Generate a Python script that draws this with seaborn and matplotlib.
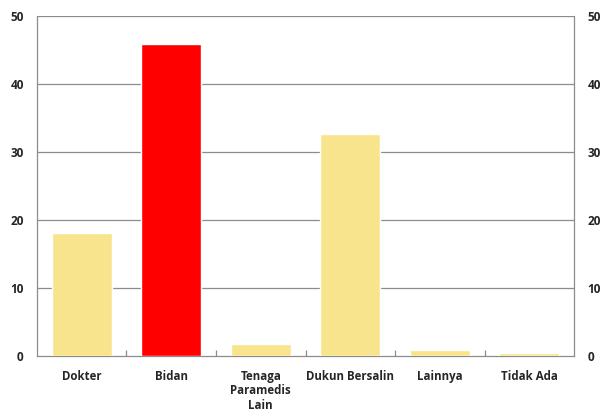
import matplotlib
matplotlib.use("Agg")
import matplotlib.pyplot as plt
import seaborn as sns
import pandas as pd
import numpy as np

categories = ["Dokter", "Bidan", "Tenaga\nParamedis\nLain", "Dukun Bersalin", "Lainnya", "Tidak Ada"]
values = [18.1, 45.9, 1.7, 32.6, 0.9, 0.4]
bar_colors = ["#F8E48C", "#FF0000", "#F8E48C", "#F8E48C", "#F8E48C", "#F8E48C"]
y_ticks = [0, 10, 20, 30, 40, 50]

sns.set_style("white")
plt.rcParams["font.family"] = ["Open Sans", "DejaVu Sans"]
plt.rcParams["font.weight"] = "bold"

df = pd.DataFrame({"kategori": categories, "nilai": values})

fig = plt.figure(figsize=(6.05, 4.13), dpi=100)
ax = fig.add_axes([0.061, 0.138, 0.888, 0.823])

sns.barplot(data=df, x="kategori", y="nilai", hue="kategori", palette=bar_colors,
            legend=False, width=0.67, saturation=1, ax=ax, zorder=3)

ax.set_ylim(0, 50)
ax.set_xlim(-0.5, len(categories) - 0.5)
ax.set_yticks(y_ticks)
ax.set_yticklabels([str(t) for t in y_ticks], fontweight="bold", fontsize=8.5)
ax.set_xticks(range(len(categories)))
ax.set_xticklabels(categories, fontweight="bold", fontsize=8.3, linespacing=1.15)
ax.set_xlabel("")
ax.set_ylabel("")

grid_c = "#8C8C8C"
for y in y_ticks[1:]:
    ax.axhline(y, color=grid_c, lw=0.9, zorder=1)

for side in ["left", "right", "bottom"]:
    ax.spines[side].set_visible(True)
    ax.spines[side].set_color(grid_c)
    ax.spines[side].set_linewidth(0.9)
    ax.spines[side].set_zorder(2)
ax.spines["top"].set_visible(False)

ax.tick_params(axis="y", which="both", left=False, right=False,
               labelleft=True, labelright=True, pad=6)

ax.tick_params(axis="x", which="major", bottom=False, pad=6.5)
ax.set_xticks(np.arange(0.5, len(categories) - 1, 1.0), minor=True)
ax.tick_params(axis="x", which="minor", bottom=True, direction="in",
               length=4, color=grid_c, width=0.9)

fig.savefig("out.png", dpi=100)
